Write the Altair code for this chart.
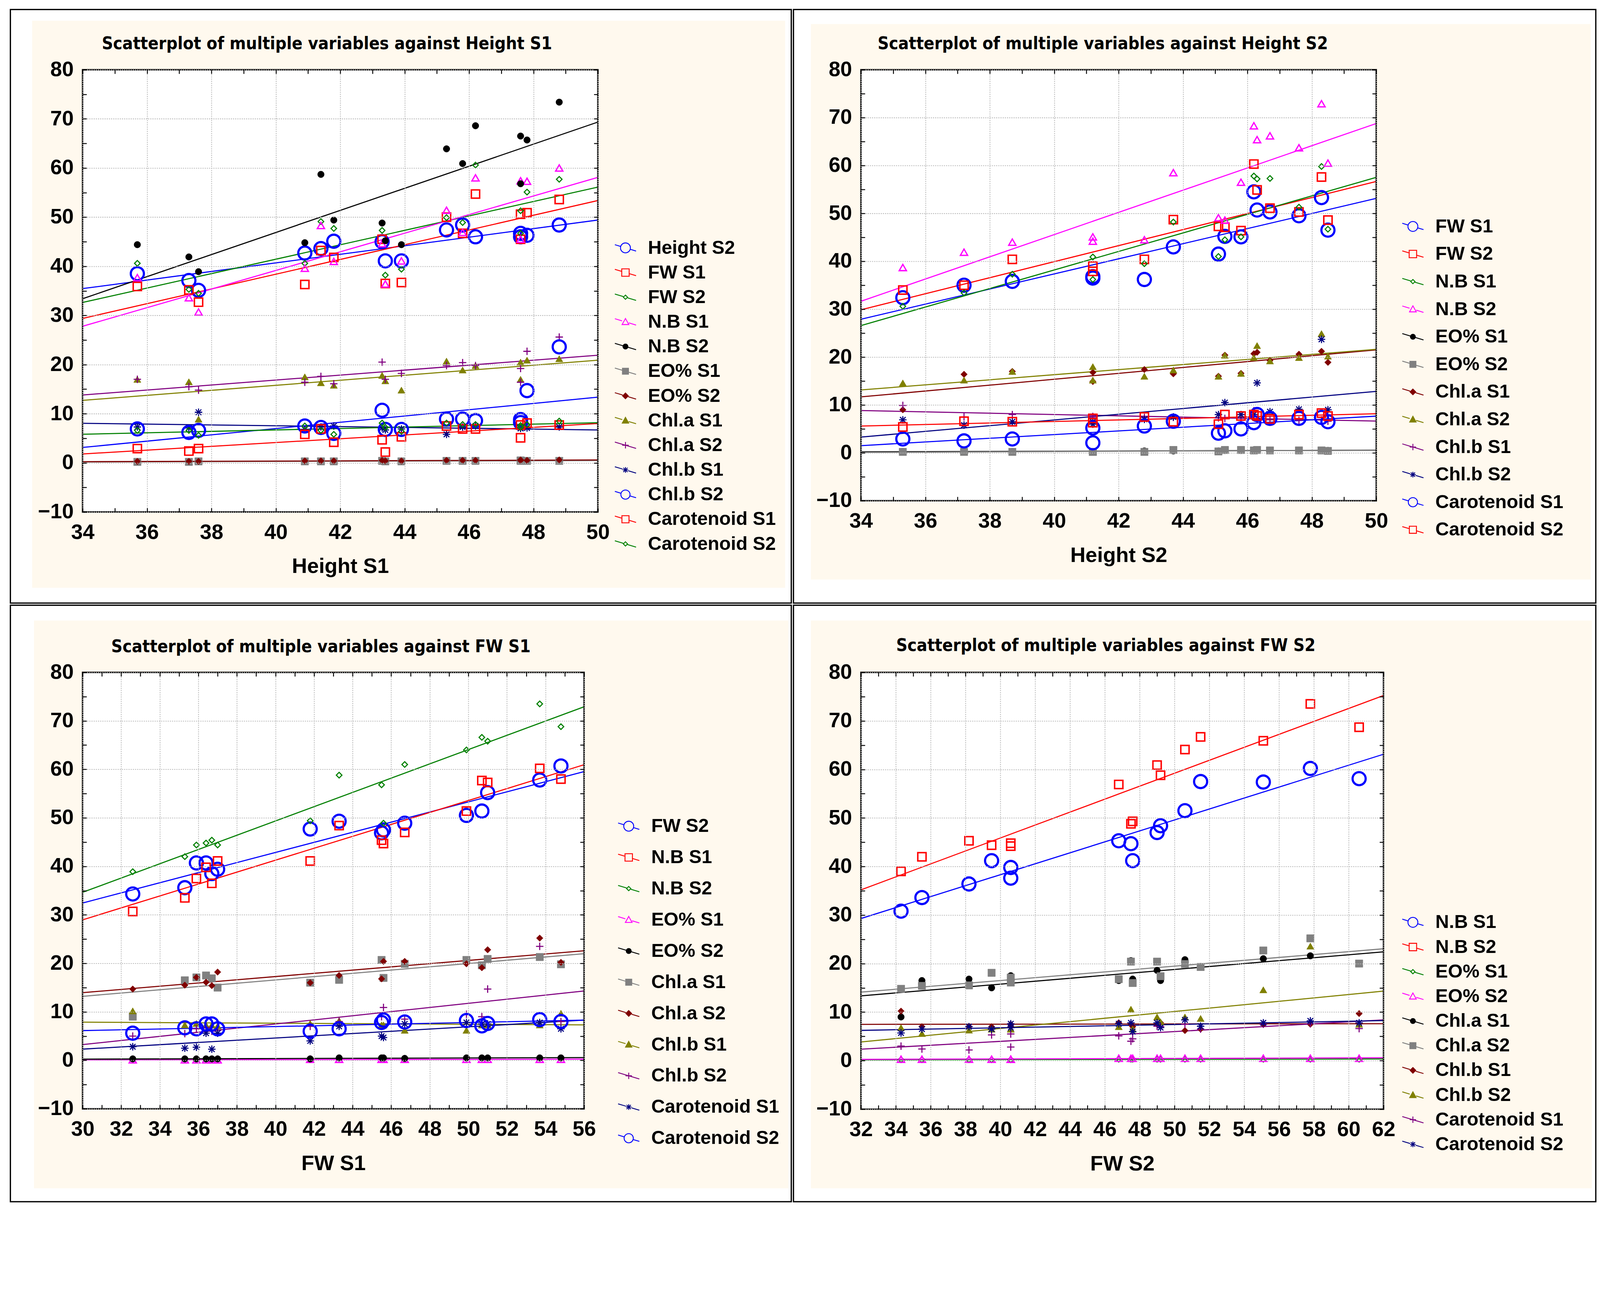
import altair as alt
import pandas as pd

# ------------------------------------------------------------------ data
# Panel 1 : x = Height S1
P1_X = [35.7, 37.3, 37.6, 40.9, 41.4, 41.8, 43.3, 43.4, 43.9, 45.3, 45.8, 46.2, 47.6, 47.6, 47.8, 48.8]
P1_NAMES = ["Height S2", "FW S1", "FW S2", "N.B S1", "N.B S2", "EO% S1", "EO% S2",
            "Chl.a S1", "Chl.a S2", "Chl.b S1", "Chl.b S2", "Carotenoid S1", "Carotenoid S2"]
P1_HEIGHT_S2 = [38.5, 37.1, 35.1, 42.7, 43.6, 45.1, 45.0, 41.1, 41.1, 47.4, 48.4, 46.0, 46.7, 46.0, 46.3, 48.4]
P1_FW_S1 = [35.9, 35.2, 32.7, 36.3, 43.2, 41.8, 45.5, 36.5, 36.7, 50.0, 46.7, 54.7, 50.6, 45.5, 50.9, 53.6]
P1_FW_S2 = [40.6, 35.3, 34.5, 40.6, 49.1, 47.7, 47.3, 38.2, 39.4, 49.9, 48.9, 60.6, 51.3, 46.7, 55.1, 57.7]
P1_NB_S1 = [37.7, 33.6, 30.7, 39.6, 48.3, 41.0, 44.6, 36.4, 41.1, 51.4, 46.9, 58.0, 57.4, 45.5, 57.3, 60.0]
P1_NB_S2 = [44.4, 41.9, 38.9, 44.8, 58.7, 49.4, 48.8, 45.2, 44.4, 63.9, 60.9, 68.6, 66.5, 56.8, 65.7, 73.4]
P1_EO_S1 = [0.2, 0.2, 0.3, 0.3, 0.3, 0.3, 0.4, 0.3, 0.3, 0.4, 0.4, 0.4, 0.4, 0.5, 0.4, 0.4]
P1_EO_S2 = [0.3, 0.3, 0.3, 0.4, 0.4, 0.4, 0.5, 0.4, 0.4, 0.5, 0.5, 0.5, 0.6, 0.5, 0.5, 0.6]
P1_CHLA_S1 = [17.0, 16.5, 8.9, 17.5, 16.3, 15.8, 17.8, 16.7, 14.8, 20.7, 18.9, 19.8, 20.5, 17.0, 20.9, 21.2]
P1_CHLA_S2 = [17.0, 15.5, 14.8, 16.4, 17.6, 16.1, 20.5, 17.0, 18.2, 19.8, 20.4, 19.8, 19.2, 16.4, 22.7, 25.6]
P1_CHLB_S1 = [7.3, 7.1, 10.3, 6.8, 7.3, 7.5, 7.1, 6.7, 6.9, 5.8, 7.3, 7.5, 7.0, 7.1, 7.1, 7.3]
P1_CHLB_S2 = [6.9, 6.2, 6.6, 7.5, 7.2, 6.0, 10.7, 6.8, 6.8, 8.9, 8.9, 8.6, 8.8, 8.2, 14.7, 23.6]
P1_CAR_S1 = [2.9, 2.4, 2.9, 5.8, 6.9, 4.2, 4.7, 2.2, 5.3, 7.5, 6.9, 6.9, 5.1, 7.7, 8.1, 7.7]
P1_CAR_S2 = [6.6, 6.6, 5.6, 7.5, 6.6, 5.8, 8.1, 7.2, 6.4, 8.1, 7.8, 7.8, 7.2, 7.6, 7.8, 8.5]

# Panel 2 : x = Height S2
P2_X = [35.3, 37.2, 38.7, 41.2, 41.2, 42.8, 43.7, 45.1, 45.3, 45.8, 46.2, 46.3, 46.7, 47.6, 48.3, 48.5]
P2_NAMES = ["FW S1", "FW S2", "N.B S1", "N.B S2", "EO% S1", "EO% S2", "Chl.a S1",
            "Chl.a S2", "Chl.b S1", "Chl.b S2", "Carotenoid S1", "Carotenoid S2"]
P2_FW_S1 = [32.4, 35.0, 35.8, 36.5, 36.8, 36.2, 43.0, 41.5, 45.2, 45.1, 54.5, 50.7, 50.3, 49.5, 53.3, 46.5]
P2_FW_S2 = [34.0, 35.0, 40.4, 39.0, 37.9, 40.4, 48.7, 47.3, 47.1, 46.4, 60.3, 54.9, 51.1, 50.3, 57.6, 48.6]
P2_NB_S1 = [30.6, 33.4, 37.3, 40.9, 36.2, 39.5, 48.2, 41.0, 44.5, 45.1, 57.8, 57.2, 57.3, 51.3, 59.8, 46.7]
P2_NB_S2 = [38.7, 41.9, 44.0, 45.1, 44.2, 44.5, 58.5, 49.1, 48.6, 56.5, 68.3, 65.4, 66.2, 63.7, 72.9, 60.5]
P2_EO_S1 = [0.3, 0.3, 0.3, 0.3, 0.3, 0.4, 0.4, 0.4, 0.5, 0.5, 0.5, 0.5, 0.5, 0.5, 0.5, 0.5]
P2_EO_S2 = [0.2, 0.2, 0.2, 0.2, 0.2, 0.2, 0.6, 0.3, 0.6, 0.6, 0.5, 0.6, 0.5, 0.5, 0.5, 0.4]
P2_CHLA_S1 = [9.0, 16.4, 17.0, 16.8, 14.9, 17.4, 16.5, 16.0, 20.4, 16.6, 20.7, 21.0, 19.3, 20.6, 21.2, 18.9]
P2_CHLA_S2 = [14.6, 15.2, 17.0, 18.0, 15.2, 16.0, 17.3, 16.0, 20.4, 16.6, 19.9, 22.4, 19.2, 19.9, 24.9, 20.2]
P2_CHLB_S1 = [9.9, 7.5, 8.0, 7.6, 7.3, 7.4, 7.4, 7.3, 7.2, 7.3, 8.8, 7.0, 6.9, 6.8, 6.9, 6.6]
P2_CHLB_S2 = [6.9, 5.8, 6.5, 6.5, 6.0, 7.0, 7.5, 8.0, 10.5, 8.0, 8.0, 14.6, 8.6, 9.1, 23.7, 9.0]
P2_CAR_S1 = [2.9, 2.5, 2.9, 5.2, 2.1, 5.6, 6.6, 4.1, 4.6, 5.0, 6.3, 8.0, 7.2, 7.2, 7.4, 6.5]
P2_CAR_S2 = [5.4, 6.6, 6.5, 7.2, 6.3, 7.5, 6.5, 6.0, 8.0, 7.7, 8.0, 7.7, 7.1, 8.0, 8.3, 7.7]

# Panel 3 : x = FW S1
P3_X = [32.6, 35.3, 35.9, 36.4, 36.7, 37.0, 41.8, 43.3, 45.5, 45.6, 46.7, 49.9, 50.7, 51.0, 53.7, 54.8]
P3_NAMES = ["FW S2", "N.B S1", "N.B S2", "EO% S1", "EO% S2", "Chl.a S1", "Chl.a S2",
            "Chl.b S1", "Chl.b S2", "Carotenoid S1", "Carotenoid S2"]
P3_FW_S2 = [34.3, 35.6, 40.7, 40.7, 38.5, 39.4, 47.7, 49.3, 46.9, 47.5, 48.9, 50.5, 51.4, 55.2, 57.8, 60.7]
P3_NB_S1 = [30.7, 33.5, 37.5, 39.8, 36.5, 41.1, 41.1, 48.4, 45.4, 44.7, 47.0, 51.4, 57.7, 57.3, 60.2, 58.0]
P3_NB_S2 = [38.9, 42.0, 44.4, 44.8, 45.4, 44.4, 49.4, 58.8, 56.8, 48.9, 61.0, 64.0, 66.6, 65.8, 73.5, 68.8]
P3_EO_S1 = [0.1, 0.1, 0.1, 0.1, 0.1, 0.1, 0.2, 0.2, 0.2, 0.2, 0.2, 0.2, 0.2, 0.2, 0.2, 0.2]
P3_EO_S2 = [0.3, 0.3, 0.3, 0.3, 0.3, 0.3, 0.3, 0.5, 0.5, 0.5, 0.4, 0.5, 0.5, 0.5, 0.5, 0.5]
P3_CHLA_S1 = [9.0, 16.5, 17.1, 17.5, 16.9, 15.0, 16.0, 16.6, 20.7, 17.0, 19.9, 20.7, 19.6, 20.9, 21.3, 19.8]
P3_CHLA_S2 = [14.7, 15.5, 17.1, 16.1, 15.4, 18.2, 16.0, 17.5, 16.8, 20.4, 20.4, 19.9, 19.1, 22.8, 25.2, 20.2]
P3_CHLB_S1 = [10.2, 7.3, 7.6, 7.3, 7.3, 7.1, 7.6, 8.2, 7.3, 7.3, 6.2, 6.2, 7.3, 7.3, 7.3, 9.7]
P3_CHLB_S2 = [5.0, 5.5, 6.5, 6.8, 6.0, 6.2, 7.0, 8.0, 9.0, 10.9, 8.5, 9.5, 9.0, 14.7, 23.5, 8.0]
P3_CAR_S1 = [2.8, 2.5, 2.7, 5.6, 2.3, 5.6, 4.0, 7.0, 5.0, 4.7, 7.5, 7.8, 7.5, 7.5, 7.8, 6.5]
P3_CAR_S2 = [5.6, 6.7, 6.5, 7.5, 7.5, 6.5, 6.0, 6.5, 7.8, 8.3, 7.9, 8.2, 7.1, 7.6, 8.4, 8.0]

# Panel 4 : x = FW S2
P4_X = [34.3, 35.5, 38.2, 39.5, 40.6, 40.6, 46.8, 47.5, 47.6, 49.0, 49.2, 50.6, 51.5, 55.1, 57.8, 60.6]
P4_NAMES = ["N.B S1", "N.B S2", "EO% S1", "EO% S2", "Chl.a S1", "Chl.a S2",
            "Chl.b S1", "Chl.b S2", "Carotenoid S1", "Carotenoid S2"]
P4_NB_S1 = [30.8, 33.6, 36.4, 41.2, 37.6, 39.8, 45.3, 44.7, 41.2, 47.0, 48.4, 51.5, 57.5, 57.4, 60.2, 58.1]
P4_NB_S2 = [39.0, 42.0, 45.3, 44.4, 44.2, 44.8, 56.9, 48.8, 49.3, 60.9, 58.8, 64.1, 66.7, 65.9, 73.5, 68.7]
P4_EO_S1 = [0.2, 0.2, 0.2, 0.2, 0.2, 0.2, 0.3, 0.3, 0.3, 0.3, 0.3, 0.3, 0.3, 0.3, 0.3, 0.3]
P4_EO_S2 = [0.3, 0.3, 0.3, 0.3, 0.3, 0.3, 0.5, 0.5, 0.5, 0.5, 0.5, 0.5, 0.5, 0.5, 0.5, 0.5]
P4_CHLA_S1 = [9.0, 16.5, 16.8, 15.0, 17.5, 17.2, 16.5, 20.6, 16.8, 18.6, 16.5, 20.8, 19.4, 21.0, 21.6, 20.0]
P4_CHLA_S2 = [14.8, 15.4, 15.5, 18.1, 16.1, 17.1, 16.8, 20.4, 16.0, 20.4, 17.4, 19.9, 19.3, 22.7, 25.2, 20.0]
P4_CHLB_S1 = [10.2, 7.0, 7.0, 7.0, 7.5, 7.0, 7.8, 7.5, 7.0, 7.5, 7.8, 6.2, 6.5, 7.5, 7.5, 9.7]
P4_CHLB_S2 = [6.8, 5.6, 6.3, 6.5, 6.5, 6.5, 7.0, 10.6, 6.5, 9.0, 8.0, 9.0, 8.7, 14.6, 23.6, 7.5]
P4_CAR_S1 = [3.0, 2.4, 2.2, 5.3, 2.8, 5.5, 5.1, 4.0, 4.5, 7.1, 7.0, 7.5, 6.5, 7.5, 7.6, 6.6]
P4_CAR_S2 = [5.7, 6.5, 7.0, 6.5, 6.8, 7.6, 7.6, 7.8, 6.0, 7.8, 6.8, 8.4, 7.1, 7.8, 8.2, 7.8]

TITLES = ["Scatterplot of multiple variables against Height S1",
          "Scatterplot of multiple variables against Height S2",
          "Scatterplot of multiple variables against FW S1",
          "Scatterplot of multiple variables against FW S2"]
X_TITLES = ["Height S1", "Height S2", "FW S1", "FW S2"]
Y_TICKS = list(range(-10, 81, 5))          # labelled every 10, minor tick every 5

# ------------------------------------------------------------------ styles (series order)
PLUS = "M-1,0L1,0M0,-1L0,1"
STAR = "M-1,0L1,0M0,-1L0,1M-0.75,-0.75L0.75,0.75M-0.75,0.75L0.75,-0.75"
COLORS = ["#0000ff", "#ff0000", "#008000", "#ff00ff", "#000000", "#808080", "#800000",
          "#808000", "#800080", "#000080", "#0000ff", "#ff0000", "#008000"]
FILLS = ["transparent", "transparent", "transparent", "transparent", "#000000", "#808080",
         "#800000", "#808000", "transparent", "transparent", "transparent", "transparent", "transparent"]
SHAPES = ["circle", "square", "diamond", "triangle-up", "circle", "square", "diamond",
          "triangle-up", PLUS, STAR, "circle", "square", "diamond"]
SIZES = [1300, 520, 240, 400, 330, 420, 330, 400, 420, 420, 1300, 520, 240]
WIDTHS = [6, 4, 3, 3.5, 1, 1, 1, 1, 3, 3, 6, 4, 3]


# legend glyphs: slanted line segment with the marker in the middle
def _seg(r):
    return f"M-3,-0.9L{-r:.2f},{-0.3 * r:.2f}M{r:.2f},{0.3 * r:.2f}L3,0.9"


def _circle(r):
    return _seg(r) + f"M{r},0A{r},{r},0,1,1,{-r},0A{r},{r},0,1,1,{r},0Z"


def _square(r):
    return _seg(r) + f"M{-r},{-r}H{r}V{r}H{-r}Z"


def _diamond(r):
    return _seg(r) + f"M0,{-r}L{r},0L0,{r}L{-r},0Z"


def _tri(r):
    return _seg(r) + f"M0,{-r}L{r},{0.8 * r:.2f}L{-r},{0.8 * r:.2f}Z"


def _plus(r):
    return _seg(0.05) + f"M{-r},0L{r},0M0,{-r}L0,{r}"


def _star(r):
    d = round(0.75 * r, 2)
    return _seg(r) + f"M{-r},0L{r},0M0,{-r}L0,{r}M{-d},{-d}L{d},{d}M{-d},{d}L{d},{-d}"


LEGEND_GLYPHS = [_circle(1.4), _square(1.05), _diamond(0.6), _tri(0.95), _circle(0.7),
                 _square(0.85), _diamond(0.8), _tri(0.9), _plus(0.9), _star(0.8),
                 _circle(1.3), _square(1.0), _diamond(0.6)]

BEIGE = "#fff9ee"
FONT = "Liberation Sans"
TITLE_FONT = "Liberation Sans Narrow, DejaVu Sans Condensed, Arial Narrow, Liberation Sans, sans-serif"
TICK = 11


def long_df(xs, names, cols):
    rows = []
    for i, (name, vals) in enumerate(zip(names, cols)):
        for xv, yv in zip(xs, vals):
            rows.append({"x": xv, "y": yv, "series": name, "col": COLORS[i],
                         "fil": FILLS[i], "shp": SHAPES[i], "sz": SIZES[i], "sw": WIDTHS[i]})
    return pd.DataFrame(rows)


def panel(df, names, xdom, xtitle, title, W, H, quad, beige, tpos, lpos, rowpad):
    n = len(names)
    L, R, T, B = quad
    bl, br, bt, bb = beige
    one = pd.DataFrame({"t": [title]})
    xticks = list(range(xdom[0], xdom[1] + 1))   # labelled every 2, minor tick every 1

    legend = alt.Legend(title=None, orient="none", legendX=lpos[0], legendY=lpos[1],
                        direction="vertical", rowPadding=rowpad, labelOffset=36,
                        padding=0, offset=0, labelLimit=900)
    xscale = alt.Scale(domain=xdom, nice=False, zero=False)
    yscale = alt.Scale(domain=[-10, 80], nice=False, zero=False)
    common = dict(domain=False, ticks=True, tickSize=TICK, tickWidth=2.5, tickColor="black",
                  offset=-TICK, zindex=1, labelFlush=False, labelFont=FONT, labelFontSize=58,
                  labelFontWeight="bold", labelColor="black", grid=True, gridColor="#b8b8b8",
                  gridDash=[3, 3], gridWidth=2.2)
    xaxis = alt.Axis(values=xticks, title=xtitle, orient="bottom", labelPadding=28,
                     titlePadding=36, titleFont=FONT, titleFontSize=58, titleFontWeight="bold",
                     titleColor="black",
                     labelExpr="datum.value % 2 == 0 ? datum.label : ''",
                     gridOpacity={"condition": {"test": "datum.value % 2 == 0", "value": 1},
                                  "value": 0},
                     **common)
    yaxis = alt.Axis(values=Y_TICKS, title=None, orient="left", labelPadding=25,
                     labelExpr="datum.value % 10 == 0 ? datum.label : ''",
                     gridOpacity={"condition": {"test": "datum.value % 10 == 0", "value": 1},
                                  "value": 0},
                     **common)
    inner = dict(domain=False, ticks=True, tickSize=TICK, tickWidth=2.5, tickColor="black",
                 offset=-TICK, zindex=1, labels=False, grid=False, title=None)
    xaxis_top = alt.Axis(values=xticks, orient="top", **inner)
    yaxis_right = alt.Axis(values=Y_TICKS, orient="right", **inner)

    s_stroke = alt.Scale(domain=names, range=COLORS[:n])
    s_fill = alt.Scale(domain=names, range=FILLS[:n])
    s_glyph = alt.Scale(domain=names, range=LEGEND_GLYPHS[:n])

    quad_rect = alt.Chart(one).mark_rect(fill="white", stroke="black", strokeWidth=3.5).encode(
        x=alt.value(-L), x2=alt.value(W + R), y=alt.value(-T), y2=alt.value(H + B))
    beige_rect = alt.Chart(one).mark_rect(fill=BEIGE).encode(
        x=alt.value(-L + bl), x2=alt.value(W + R - br),
        y=alt.value(-T + bt), y2=alt.value(H + B - bb))
    plot_rect = alt.Chart(one).mark_rect(fill="white").encode(
        x=alt.value(0), x2=alt.value(W), y=alt.value(0), y2=alt.value(H))

    lines = alt.Chart(df).transform_regression(
        "x", "y", groupby=["series", "col"], extent=xdom
    ).mark_line(strokeWidth=3, clip=True).encode(
        x=alt.X("x:Q", scale=xscale, axis=xaxis),
        y=alt.Y("y:Q", scale=yscale, axis=yaxis),
        color=alt.Color("col:N", scale=None), detail="series:N")
    points = alt.Chart(df).mark_point(opacity=1, clip=True).encode(
        x=alt.X("x:Q", scale=xscale, axis=None),
        y=alt.Y("y:Q", scale=yscale, axis=None),
        color=alt.Color("col:N", scale=None),
        fill=alt.Fill("fil:N", scale=None),
        shape=alt.Shape("shp:N", scale=None),
        size=alt.Size("sz:Q", scale=None),
        strokeWidth=alt.StrokeWidth("sw:Q", scale=None),
    )
    # legend-only layer (draws no rows): glyphs combine line + marker; carries top/right ticks
    legend_layer = alt.Chart(df).transform_filter("datum.y > 1000").mark_point(
        opacity=1, clip=True).encode(
        x=alt.X("x:Q", scale=xscale, axis=xaxis_top),
        y=alt.Y("y:Q", scale=yscale, axis=yaxis_right),
        stroke=alt.Stroke("series:N", scale=s_stroke, legend=legend),
        fill=alt.Fill("series:N", scale=s_fill, legend=legend),
        shape=alt.Shape("series:N", scale=s_glyph, legend=legend),
    )
    frame = alt.Chart(one).mark_rect(fill="transparent", stroke="black", strokeWidth=4).encode(
        x=alt.value(0), x2=alt.value(W), y=alt.value(0), y2=alt.value(H))
    title_text = alt.Chart(one).mark_text(
        align="left", baseline="alphabetic", font=TITLE_FONT, fontSize=48,
        fontWeight="bold", color="black"
    ).encode(x=alt.value(tpos[0]), y=alt.value(tpos[1]), text="t:N")

    return alt.layer(quad_rect, beige_rect, plot_rect, lines, points, legend_layer, frame,
                     title_text).resolve_axis(x="independent", y="independent").properties(
        width=W, height=H)


df1 = long_df(P1_X, P1_NAMES, [P1_HEIGHT_S2, P1_FW_S1, P1_FW_S2, P1_NB_S1, P1_NB_S2, P1_EO_S1,
                                P1_EO_S2, P1_CHLA_S1, P1_CHLA_S2, P1_CHLB_S1, P1_CHLB_S2,
                                P1_CAR_S1, P1_CAR_S2])
df2 = long_df(P2_X, P2_NAMES, [P2_FW_S1, P2_FW_S2, P2_NB_S1, P2_NB_S2, P2_EO_S1, P2_EO_S2,
                                P2_CHLA_S1, P2_CHLA_S2, P2_CHLB_S1, P2_CHLB_S2, P2_CAR_S1, P2_CAR_S2])
df3 = long_df(P3_X, P3_NAMES, [P3_FW_S2, P3_NB_S1, P3_NB_S2, P3_EO_S1, P3_EO_S2, P3_CHLA_S1,
                                P3_CHLA_S2, P3_CHLB_S1, P3_CHLB_S2, P3_CAR_S1, P3_CAR_S2])
df4 = long_df(P4_X, P4_NAMES, [P4_NB_S1, P4_NB_S2, P4_EO_S1, P4_EO_S2, P4_CHLA_S1, P4_CHLA_S2,
                                P4_CHLB_S1, P4_CHLB_S2, P4_CAR_S1, P4_CAR_S2])

# quad = (left, right, top, bottom) margins around each plot area; equal per grid row/column
p1 = panel(df1, P1_NAMES, [34, 50], X_TITLES[0], TITLES[0],
           1420, 1219, (199, 533, 166, 251), (60, 17, 31, 42), (53, -57), (1470, 465), 16)
p2 = panel(df2, P2_NAMES, [34, 50], X_TITLES[1], TITLES[1],
           1420, 1188, (186, 605, 166, 282), (48, 14, 40, 65), (46, -57), (1495, 406), 24)
p3 = panel(df3, P3_NAMES, [30, 56], X_TITLES[2], TITLES[2],
           1382, 1203, (199, 571, 185, 256), (65, 8, 42, 37), (79, -56), (1479, 398), 34)
p4 = panel(df4, P4_NAMES, [32, 62], X_TITLES[3], TITLES[3],
           1440, 1204, (186, 585, 185, 255), (48, 11, 42, 37), (97, -59), (1495, 663), 16)

RES = dict(x="independent", y="independent", stroke="independent", fill="independent",
           shape="independent")
LRES = dict(stroke="independent", fill="independent", shape="independent")

chart = alt.concat(p1, p2, p3, p4, columns=2).properties(
    bounds="full", spacing=0,
    padding={"left": 17, "top": -105, "right": 0, "bottom": -60}
).resolve_scale(**RES).resolve_legend(**LRES).configure(
    background="white", font=FONT
).configure_view(stroke="transparent").configure_legend(
    labelFont=FONT, labelFontSize=52, labelFontWeight="bold", labelColor="black",
    symbolSize=380, symbolStrokeWidth=2.5, labelLimit=900
)

chart.save("out.html", embed_options={"renderer": "svg", "actions": False})
